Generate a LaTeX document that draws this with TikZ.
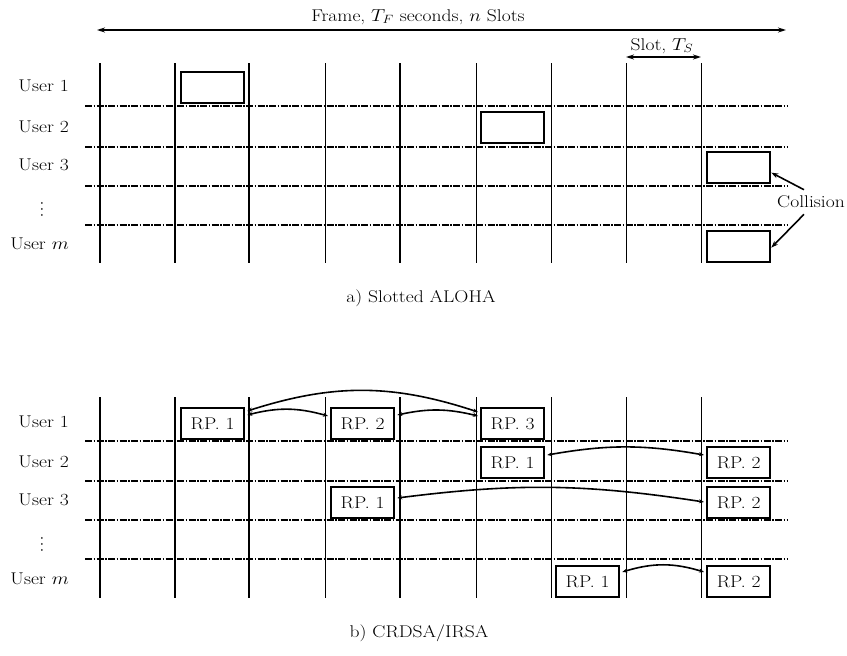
\documentclass[tikz,border=0pt]{standalone}
\usetikzlibrary{arrows.meta}
\newcommand{\hs}[1]{\scalebox{1.15}[1]{#1}}
\newcommand{\tallvdots}{\scalebox{1}[1.5]{$\vdots$}}
\begin{document}
\begin{tikzpicture}[x=1pt,y=-1pt,
  txt/.style={font=\fontsize{17}{20}\selectfont, inner sep=0pt},
  vthick/.style={line width=2.4pt},
  vthin/.style={line width=0.9pt},
  hthick/.style={line width=2.2pt, dash pattern=on 7pt off 1.5pt on 1.5pt off 1.5pt},
  hthin/.style={line width=1.1pt, dash pattern=on 7pt off 1.5pt on 1.5pt off 1.5pt},
  pkt/.style={draw, line width=2.3pt, minimum width=63pt, minimum height=31pt, inner sep=0pt, anchor=north west, font=\fontsize{17}{20}\selectfont},
  arc/.style={line width=1.6pt, {Stealth[length=5pt,width=4pt]}-{Stealth[length=5pt,width=4pt]}},
  dim/.style={line width=1.2pt, {Stealth[length=8pt,width=5pt]}-{Stealth[length=8pt,width=5pt]}},
  colarr/.style={line width=1.6pt, -{Stealth[length=7pt,width=5pt]}}
]
\useasboundingbox (0,0) rectangle (847,656);

% ---------- a) Slotted ALOHA ----------
\node[txt] (frame) at (418,17) {\hs{Frame, $T_F$ seconds, $n$ Slots}};
\coordinate (fl) at (97,30);
\coordinate (fr) at (786,30);
\draw[dim] (fl) -- (fr);
\node[txt] (slot) at (662,46) {\hs{Slot, $T_S$}};
\coordinate (sl) at (626,57);
\coordinate (sr) at (701,57);
\draw[dim, line width=2pt] (sl) -- (sr);

\foreach \x in {100,175,249,400} \draw[vthick] (\x,63) -- (\x,263);
\foreach \x in {325,476,551,626,701} \draw[vthin] (\x,63) -- (\x,263);
\draw[hthick] (85,106) -- (787,106);
\draw[hthick] (85,147) -- (787,147);
\draw[hthin]  (85,186) -- (787,186);
\draw[hthick] (85,225) -- (787,225);

\node[txt, anchor=east] (au1) at (69,86) {\hs{User 1}};
\node[txt, anchor=east] (au2) at (69,127) {\hs{User 2}};
\node[txt, anchor=east] (au3) at (69,165) {\hs{User 3}};
\node[txt] (adots) at (42,205) {\tallvdots};
\node[txt, anchor=east] (aum) at (69,244) {\hs{User $m$}};

\node[pkt] (p1) at (180,71) {};
\node[pkt] (p2) at (480,111) {};
\node[pkt] (p3) at (706,151) {};
\node[pkt] (p4) at (706,230) {};

\node[txt] (col) at (811,202) {\hs{Collision}};
\draw[colarr] ([xshift=-7pt,yshift=6pt]col.north) -- ([yshift=-5pt]p3.east);
\draw[colarr] ([xshift=-7pt,yshift=-6pt]col.south) -- ([yshift=-1pt]p4.east);

\node[txt] (capa) at (421,298) {\hs{a) Slotted ALOHA}};

% ---------- b) CRDSA/IRSA ----------
\foreach \x in {100,175,249,400} \draw[vthick] (\x,397) -- (\x,598);
\foreach \x in {325,476,551,626,701} \draw[vthin] (\x,397) -- (\x,598);
\draw[hthin]  (85,441) -- (787,441);
\draw[hthick] (85,481) -- (787,481);
\draw[hthick] (85,520) -- (787,520);
\draw[hthin]  (85,559) -- (787,559);

\node[txt, anchor=east] (bu1) at (69,422) {\hs{User 1}};
\node[txt, anchor=east] (bu2) at (69,462) {\hs{User 2}};
\node[txt, anchor=east] (bu3) at (69,500) {\hs{User 3}};
\node[txt] (bdots) at (42,540) {\tallvdots};
\node[txt, anchor=east] (bum) at (69,579) {\hs{User $m$}};

\node[pkt] (a1) at (180,407) {\hs{RP. 1}};
\node[pkt] (a2) at (330,407) {\hs{RP. 2}};
\node[pkt] (a3) at (480,407) {\hs{RP. 3}};
\node[pkt] (b1) at (480,446) {\hs{RP. 1}};
\node[pkt] (b2) at (706,446) {\hs{RP. 2}};
\node[pkt] (c1) at (330,486) {\hs{RP. 1}};
\node[pkt] (c2) at (706,486) {\hs{RP. 2}};
\node[pkt] (d1) at (555,565) {\hs{RP. 1}};
\node[pkt] (d2) at (706,565) {\hs{RP. 2}};

\draw[arc] ([xshift=2pt,yshift=-4pt]a1.north east) to[bend left=18] ([xshift=-2pt,yshift=-5pt]a3.north west);
\draw[arc] ([xshift=2pt,yshift=-8pt]a1.north east) to[bend left=15] ([xshift=-2pt,yshift=-9pt]a2.north west);
\draw[arc] ([xshift=2pt,yshift=-8pt]a2.north east) to[bend left=13] ([xshift=-2pt,yshift=-9pt]a3.north west);
\draw[arc] ([xshift=2pt,yshift=-9pt]b1.north east) to[bend left=10] ([xshift=-2pt,yshift=-9pt]b2.north west);
\draw[arc] ([xshift=2pt,yshift=-12pt]c1.north east) to[bend left=8] ([xshift=-2pt,yshift=-16pt]c2.north west);
\draw[arc] ([xshift=2pt,yshift=-7pt]d1.north east) to[bend left=17] ([xshift=-2pt,yshift=-7pt]d2.north west);

\node[txt] (capb) at (419,633) {\hs{b) CRDSA/IRSA}};
\end{tikzpicture}
\end{document}
